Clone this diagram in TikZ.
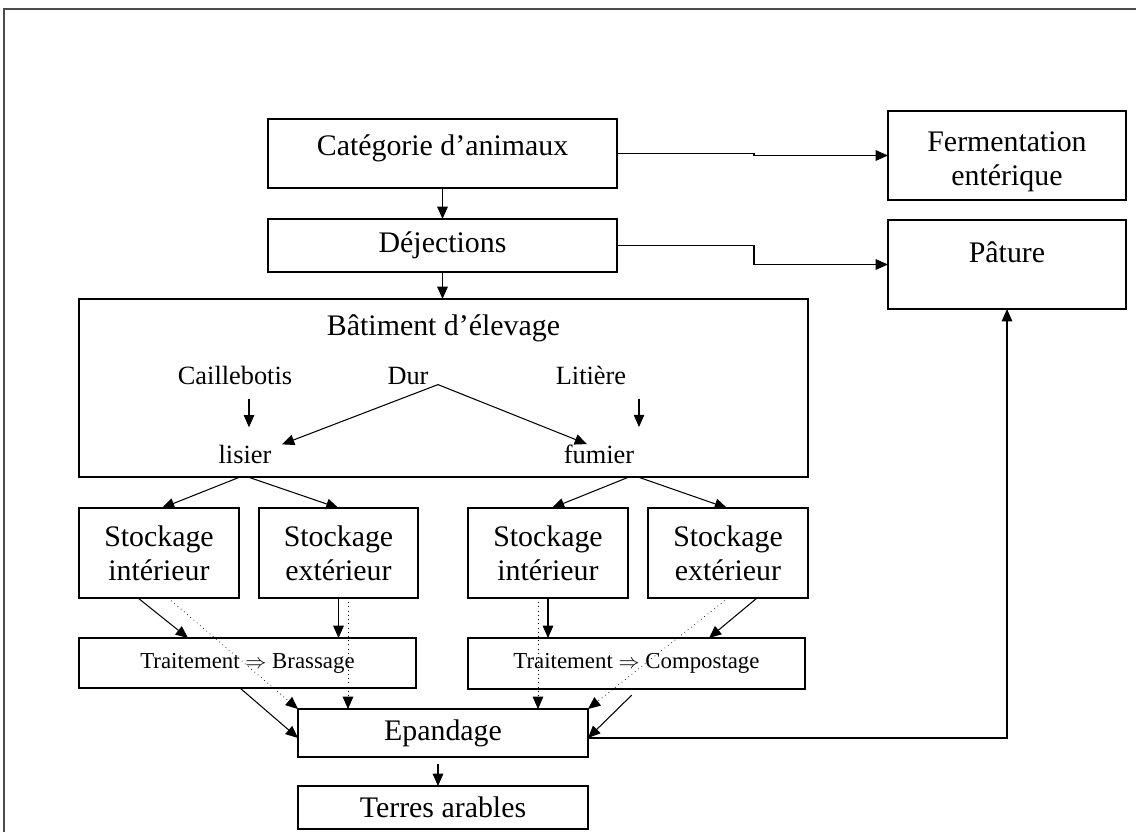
\documentclass[tikz,border=0pt]{standalone}
\usepackage{fontspec}
\setmainfont{Liberation Serif}
\usetikzlibrary{arrows.meta}
\tikzstyle{diagram} = [x = 0.02cm, y = -0.02cm]
\tikzstyle{boxStyle} = [draw, line width=0.8pt, inner sep=0pt, outer sep=0pt, align=center]
\tikzstyle{bigText} = [font=\fontsize{17}{19.3}\selectfont]
\tikzstyle{midText} = [font=\fontsize{15}{17}\selectfont]
\tikzstyle{smallText} = [font=\fontsize{13}{15}\selectfont]
\tikzstyle{plainText} = [inner sep=0pt, anchor=base]
\tikzstyle{flowArrow} = [line width=0.6pt, -{Triangle[length=7pt, width=6pt]}]
\tikzstyle{dottedArrow} = [line width=0.4pt, dotted, -{Triangle[length=7pt, width=6pt]}]
\tikzstyle{frameLine} = [line width=1.1pt, black!70]
\newcommand{\px}{0.02cm}
\newcommand{\flowBox}[7]{\node [boxStyle, #2, minimum width={(#5-#3)*\px}, minimum height={(#6-#4)*\px}] (#1) at ({(#3+#5)/2}, {(#4+#6)/2}) {#7};}

\begin{document}
\begin{tikzpicture}[diagram]
        \useasboundingbox (0,0) rectangle (1136,832);
        \draw [frameLine] (4,832) -- (4,9) -- (1136,9);
        % top boxes
        \flowBox{cat}{bigText}{268}{119}{617}{188}{}
        \node [plainText, bigText] (catText) at (442.5,155) {Catégorie d’animaux};
        \flowBox{dej}{bigText}{268}{219}{617}{272}{Déjections}
        \flowBox{ferm}{bigText}{888}{111}{1126}{200}{}
        \node [bigText, align=center, inner sep=0pt] (fermText) at (1007,162) {Fermentation\\entérique};
        \flowBox{pat}{bigText}{888}{220}{1126}{309}{}
        \node [plainText, bigText] (patText) at (1007,262) {Pâture};
        % building
        \flowBox{bat}{bigText}{79}{299}{808}{477}{}
        \node [plainText, bigText] (batText) at (443.5,335) {Bâtiment d’élevage};
        \node [plainText, midText] (caill) at (235,384) {Caillebotis};
        \node [plainText, midText] (dur) at (408,384) {Dur};
        \node [plainText, midText] (litiere) at (591,384) {Litière};
        \node [plainText, midText] (lisier) at (245,463) {lisier};
        \node [plainText, midText] (fumier) at (599,463) {fumier};
        % storage and treatment
        \flowBox{stoLisInt}{bigText}{79}{508}{239}{598}{Stockage\\intérieur}
        \flowBox{stoLisExt}{bigText}{259}{508}{418}{598}{Stockage\\extérieur}
        \flowBox{stoFumInt}{bigText}{468}{508}{628}{598}{Stockage\\intérieur}
        \flowBox{stoFumExt}{bigText}{648}{508}{808}{598}{Stockage\\extérieur}
        \flowBox{brassage}{smallText}{79}{638}{416}{688}{Traitement $\Rightarrow$ Brassage}
        \flowBox{compost}{smallText}{468}{638}{805}{689}{Traitement $\Rightarrow$ Compostage}
        \flowBox{epand}{bigText}{298}{709}{588}{757}{Epandage}
        \flowBox{terres}{bigText}{298}{786}{588}{829}{Terres arables}
        % connectors
        \coordinate (elbow) at (754,0);
        \draw [flowArrow] (cat.east) -- (cat.east -| elbow) |- (ferm.west);
        \draw [flowArrow] (dej.east) -- (dej.east -| elbow) |- (pat.west);
        \draw [flowArrow] (cat) -- (dej);
        \draw [flowArrow] (dej.south) -- (dej.south |- bat.north);
        \draw [flowArrow, shorten <=8pt, shorten >=9.7pt] (249,0 |- caill.south) -- (249,0 |- lisier.north);
        \draw [flowArrow, shorten <=8pt, shorten >=9.7pt] (639,0 |- litiere.south) -- (639,0 |- fumier.north);
        \coordinate (durFork) at (438,0 |- dur.south);
        \draw [flowArrow] (durFork) -- (282,0 |- lisier.north);
        \draw [flowArrow] (durFork) -- (587,0 |- fumier.north);
        \draw [flowArrow] (240,0 |- bat.south) -- (162,0 |- stoLisInt.north);
        \draw [flowArrow] (248,0 |- bat.south) -- (stoLisExt.north);
        \draw [flowArrow] (629,0 |- bat.south) -- (552,0 |- stoFumInt.north);
        \draw [flowArrow] (638,0 |- bat.south) -- (727,0 |- stoFumExt.north);
        \draw [flowArrow] (138,0 |- stoLisInt.south) -- (188,0 |- brassage.north);
        \draw [dottedArrow] (168,0 |- stoLisInt.south) -- (epand.north west);
        \draw [flowArrow] (stoLisExt.south) -- (stoLisExt.south |- brassage.north);
        \draw [dottedArrow] (348,0 |- stoLisExt.south) -- (348,0 |- epand.north);
        \draw [flowArrow] (stoFumInt.south) -- (stoFumInt.south |- compost.north);
        \draw [dottedArrow] (538,0 |- stoFumInt.south) -- (538,0 |- epand.north);
        \draw [flowArrow] (757,0 |- stoFumExt.south) -- (709,0 |- compost.north);
        \draw [dottedArrow] (728,0 |- stoFumExt.south) -- (epand.north east);
        \draw [flowArrow] (240,0 |- brassage.south) -- (epand.west |- 0,738);
        \draw [flowArrow, shorten <=5pt] (638,0 |- compost.south) -- (epand.east |- 0,738);
        \draw [flowArrow] (epand.east |- 0,738) -| (pat.south);
        \draw [flowArrow, shorten <=4pt] (438,0 |- epand.south) -- (438,0 |- terres.north);
      \end{tikzpicture}
\end{document}
